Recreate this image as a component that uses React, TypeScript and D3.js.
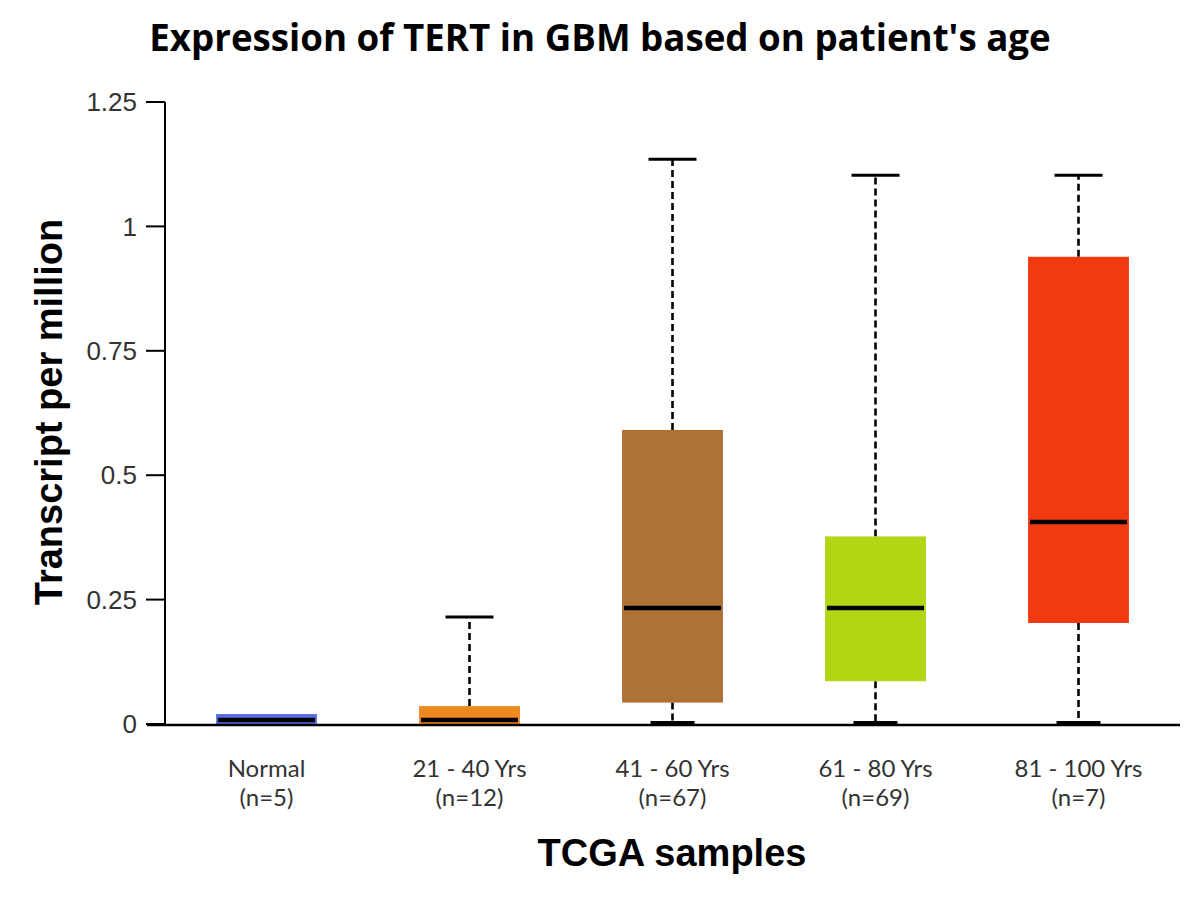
import React from "react";
import * as d3 from "d3";

const categories = ["Normal", "21 - 40 Yrs", "41 - 60 Yrs", "61 - 80 Yrs", "81 - 100 Yrs"];
const counts = ["(n=5)", "(n=12)", "(n=67)", "(n=69)", "(n=7)"];
const mins = [0, 0, 0.003, 0.003, 0.003];
const q1s = [0, 0, 0.043, 0.086, 0.203];
const medians = [0.008, 0.008, 0.233, 0.233, 0.406];
const q3s = [0.02, 0.036, 0.591, 0.377, 0.939];
const maxs = [0.02, 0.215, 1.135, 1.103, 1.103];
const colors = ["#5a6ee2", "#ee8a20", "#ad7236", "#b2d614", "#f23a12"];
const yTicks = [0, 0.25, 0.5, 0.75, 1, 1.25];
const yTickLabels = ["0", "0.25", "0.5", "0.75", "1", "1.25"];

export default function App() {
  const W = 1200, H = 900;
  const left = 165, right = 1180, top = 102, bottom = 724;
  const x = d3.scaleBand<string>().domain(categories).range([left, right]).paddingInner(0).paddingOuter(0);
  const y = d3.scaleLinear().domain([0, 1.25]).range([bottom, top]);
  const boxW = x.bandwidth() * 0.497;
  const capW = 48;
  const data = categories.map((c, i) => ({
    c, n: counts[i], min: mins[i], q1: q1s[i], med: medians[i], q3: q3s[i], max: maxs[i], color: colors[i],
  }));
  return (
    <svg width={W} height={H} style={{ display: "block", position: "absolute", left: 0, top: 0, background: "#fff" }}>
      <text x={600} y={51} textAnchor="middle" fontFamily="'Open Sans', sans-serif" fontWeight={700} fontSize={36.7} fill="#000">
        Expression of TERT in GBM based on patient's age
      </text>
      {/* y axis */}
      <line x1={left} x2={left} y1={top} y2={bottom + 1} stroke="#000" strokeWidth={2} />
      {yTicks.map((t, i) => (
        <g key={t}>
          <line x1={left - 19} x2={left} y1={y(t)} y2={y(t)} stroke="#000" strokeWidth={2} />
          <text x={left - 28} y={y(t)} dy="0.35em" textAnchor="end" fontFamily="'Liberation Sans', Arial, sans-serif" fontSize={26} fill="#333">
            {yTickLabels[i]}
          </text>
        </g>
      ))}
      <text transform={`translate(62, 412) rotate(-90)`} textAnchor="middle" fontFamily="'Liberation Sans', Arial, sans-serif" fontWeight={700} fontSize={38} fill="#000">
        Transcript per million
      </text>
      {/* whiskers */}
      {data.map((d) => {
        const cx = x(d.c)! + x.bandwidth() / 2;
        return (
          <g key={"w" + d.c}>
            {d.max > d.q3 && (
              <>
                <line x1={cx} x2={cx} y1={y(d.q3)} y2={y(d.max)} stroke="#000" strokeWidth={2.6} strokeDasharray="7,4" />
                <line x1={cx - capW / 2} x2={cx + capW / 2} y1={y(d.max)} y2={y(d.max)} stroke="#000" strokeWidth={3} />
              </>
            )}
            {d.q1 > d.min && (
              <>
                <line x1={cx} x2={cx} y1={y(d.q1)} y2={y(d.min)} stroke="#000" strokeWidth={2.6} strokeDasharray="7,4" />
                <line x1={cx - capW / 2 + 2} x2={cx + capW / 2 - 2} y1={y(d.min)} y2={y(d.min)} stroke="#000" strokeWidth={3} />
              </>
            )}
          </g>
        );
      })}
      {/* boxes */}
      {data.map((d) => {
        const cx = x(d.c)! + x.bandwidth() / 2;
        return (
          <g key={"b" + d.c}>
            <rect x={cx - boxW / 2} y={y(d.q3)} width={boxW} height={y(d.q1) - y(d.q3)} fill={d.color} />
            <line x1={cx - boxW / 2 + 2} x2={cx + boxW / 2 - 2} y1={y(d.med)} y2={y(d.med)} stroke="#000" strokeWidth={4.5} />
          </g>
        );
      })}
      {/* x axis */}
      <line x1={147} x2={right} y1={bottom + 1} y2={bottom + 1} stroke="#000" strokeWidth={2.5} />
      {data.map((d) => {
        const cx = x(d.c)! + x.bandwidth() / 2;
        return (
          <g key={"l" + d.c}>
            <text x={cx} y={777} textAnchor="middle" fontFamily="Lato, 'Open Sans', sans-serif" fontSize={24} fill="#333">{d.c}</text>
            <text x={cx} y={806} textAnchor="middle" fontFamily="Lato, 'Open Sans', sans-serif" fontSize={24} fill="#333">{d.n}</text>
          </g>
        );
      })}
      <text x={672} y={866} textAnchor="middle" fontFamily="'Liberation Sans', Arial, sans-serif" fontWeight={700} fontSize={38} fill="#000">
        TCGA samples
      </text>
    </svg>
  );
}
